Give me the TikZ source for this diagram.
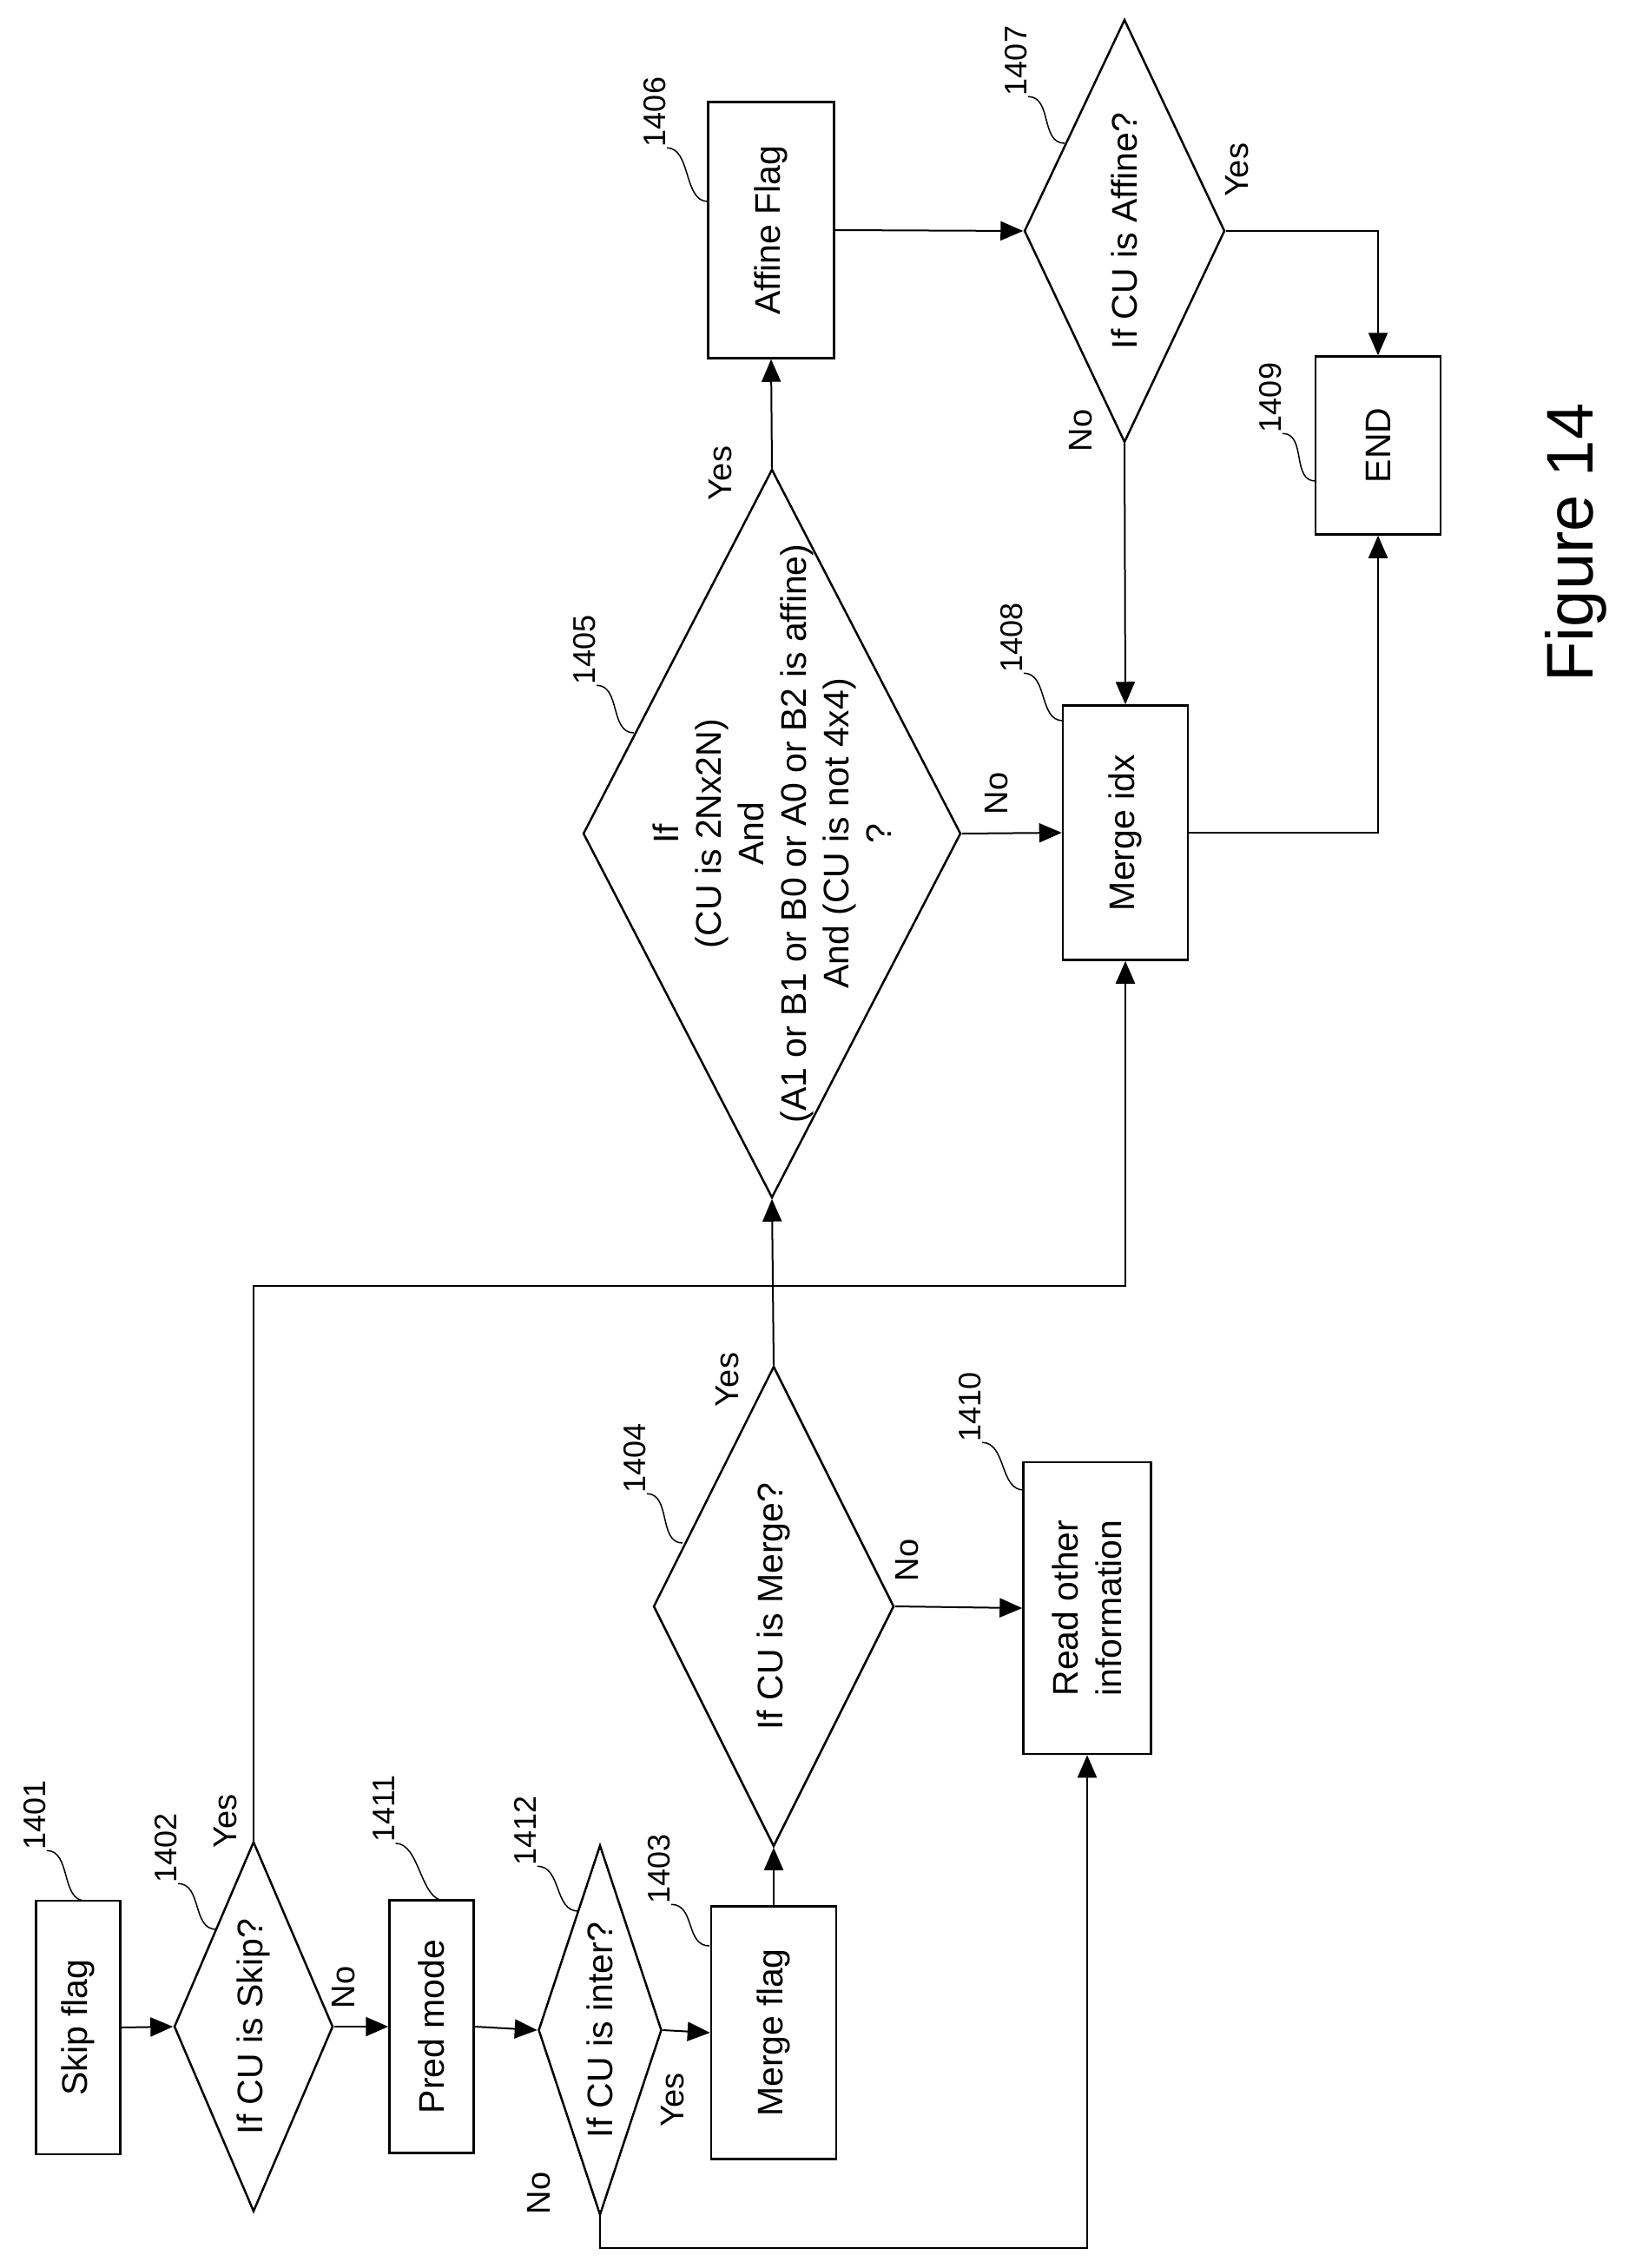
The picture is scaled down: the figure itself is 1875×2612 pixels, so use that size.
\documentclass[tikz,border=0pt]{standalone}
\usepackage{fontspec}
\setmainfont{Liberation Sans}
\usetikzlibrary{shapes.geometric,arrows.meta}
\tikzset{
  box/.style={draw, line width=2.5pt, rotate=90, inner sep=0pt, align=center,
    font=\fontsize{41}{50}\selectfont},
  dia/.style={draw, line width=2.5pt, diamond, inner sep=0pt},
  txt/.style={rotate=90, align=center, font=\fontsize{41}{49}\selectfont},
  num/.style={rotate=90, inner sep=1pt, font=\fontsize{36}{36}\selectfont},
  yn/.style={rotate=90, inner sep=0pt, font=\fontsize{38}{38}\selectfont},
  arr/.style={line width=2pt, -{Triangle[length=26pt,width=22pt]}},
  ln/.style={line width=2pt},
  lead/.style={line width=1.5pt}
}
\newcommand{\leadto}[2]{\draw[lead] (#1.south west) .. controls +(28,0) and +(-28,0) .. #2;}
\begin{document}
\begin{tikzpicture}[x=1pt, y=-1pt]
\useasboundingbox (0,0) rectangle (1875,2612);
% boxes
\node[box, minimum width=292, minimum height=97] (skip) at (90,2335) {Skip flag};
\node[box, minimum width=291, minimum height=97] (pred) at (497,2334) {Pred mode};
\node[box, minimum width=291, minimum height=144] (mflag) at (891,2341) {Merge flag};
\node[box, minimum width=336, minimum height=147] (read) at (1252,1852) {Read other\\information};
\node[box, minimum width=295, minimum height=145] (affine) at (888,265) {Affine Flag};
\node[box, minimum width=293, minimum height=144] (midx) at (1296,959) {Merge idx};
\node[box, minimum width=205, minimum height=144] (end) at (1587,513) {END};
% decisions
\node[dia, minimum width=183, minimum height=426] (d1402) at (292,2334) {};
\node[dia, minimum width=142, minimum height=426] (d1412) at (691,2338) {};
\node[dia, minimum width=277, minimum height=553] (d1404) at (891,1850) {};
\node[dia, minimum width=435, minimum height=839] (d1405) at (889,960) {};
\node[dia, minimum width=231, minimum height=487] (d1407) at (1295,266) {};
\node[txt] (t1402) at (d1402) {If CU is Skip?};
\node[txt] (t1412) at (d1412) {If CU is inter?};
\node[txt] (t1404) at (d1404) {If CU is Merge?};
\node[txt] (t1405) at (d1405) {If\\(CU is 2Nx2N)\\And\\(A1 or B1 or B0 or A0 or B2 is affine)\\And (CU is not 4x4)\\?};
\node[txt] (t1407) at (d1407) {If CU is Affine?};
% connectors
\coordinate (skipup) at (292,1481);
\coordinate (interdn) at (691,2589);
\draw[arr] (skip.south) -- (d1402.west);
\draw[arr] (d1402.east) -- (pred.north);
\draw[arr] (pred.south) -- (d1412.west);
\draw[arr] (d1412.east) -- (mflag.north);
\draw[arr] (mflag.east) -- (d1404.south);
\draw[arr] (d1404.north) -- (d1405.south);
\draw[arr] (d1404.east) -- (read.north);
\draw[arr] (d1405.north) -- (affine.west);
\draw[arr] (d1405.east) -- (midx.north);
\draw[arr] (affine.south) -- (d1407.west);
\draw[arr] (d1407.east) -| (end.east);
\draw[arr] (d1407.south) -- (midx.east);
\draw[arr] (midx.south) -| (end.west);
\draw[arr] (d1402.north) -- (skipup) -| (midx.west);
\draw[arr] (d1412.south) -- (interdn) -| (read.west);
% yes / no
\node[yn] (y1402) at (260,2097) {Yes};
\node[yn] (n1402) at (396,2289) {No};
\node[yn] (y1412) at (775,2418) {Yes};
\node[yn] (n1412) at (621,2526) {No};
\node[yn] (y1404) at (838,1589) {Yes};
\node[yn] (n1404) at (1045,1797) {No};
\node[yn] (y1405) at (830,545) {Yes};
\node[yn] (n1405) at (1148,914) {No};
\node[yn] (y1407) at (1425,196) {Yes};
\node[yn] (n1407) at (1245,496) {No};
% reference numbers
\node[num] (l1401) at (40,2090) {1401};
\node[num] (l1402) at (191,2128) {1402};
\node[num] (l1411) at (442,2083) {1411};
\node[num] (l1412) at (605,2108) {1412};
\node[num] (l1403) at (759,2152) {1403};
\node[num] (l1404) at (731,1679) {1404};
\node[num] (l1410) at (1117,1620) {1410};
\node[num] (l1405) at (673,748) {1405};
\node[num] (l1408) at (1165,734) {1408};
\node[num] (l1406) at (754,129) {1406};
\node[num] (l1407) at (1170,70) {1407};
\node[num] (l1409) at (1463,458) {1409};
\leadto{l1401}{(98,2189)}
\leadto{l1402}{(249,2222)}
\leadto{l1411}{(512,2189)}
\leadto{l1412}{(666,2201)}
\leadto{l1403}{(817,2241)}
\leadto{l1404}{(786,1777)}
\leadto{l1410}{(1179,1716)}
\leadto{l1405}{(730,844)}
\leadto{l1408}{(1224,830)}
\leadto{l1406}{(815,232)}
\leadto{l1407}{(1226,165)}
\leadto{l1409}{(1515,554)}
\node[rotate=90, font=\fontsize{76}{76}\selectfont] (fig) at (1815,625) {Figure 14};
\end{tikzpicture}
\end{document}
